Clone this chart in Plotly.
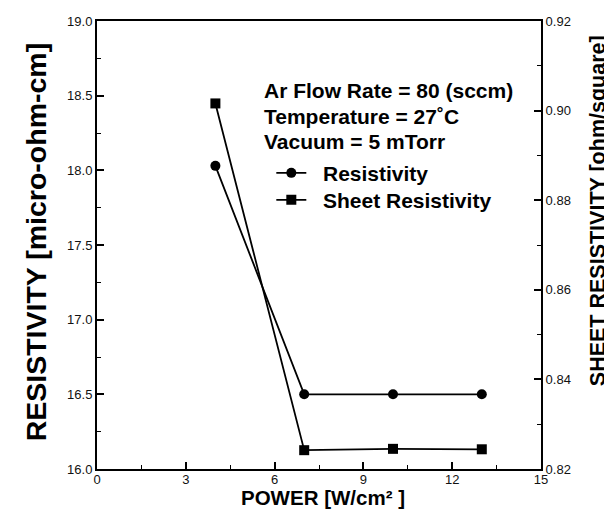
import plotly.graph_objects as go

power = [4, 7, 10, 13]
resistivity = [18.03, 16.50, 16.50, 16.50]
sheet_resistivity = [0.9016, 0.8242, 0.8245, 0.8244]

x_ticks = [0, 3, 6, 9, 12, 15]
y_ticks = [16.0, 16.5, 17.0, 17.5, 18.0, 18.5, 19.0]
y2_ticks = [0.82, 0.84, 0.86, 0.88, 0.90, 0.92]

conditions = ["Ar Flow Rate = 80 (sccm)", "Temperature = 27˚C", "Vacuum = 5 mTorr"]
series_names = ["Resistivity", "Sheet Resistivity"]
x_title = "POWER [W/cm² ]"
y_title = "RESISTIVITY [micro-ohm-cm]"
y2_title = "SHEET RESISTIVITY [ohm/square]"

FONT = "Liberation Sans, Arial, sans-serif"
NB = "\u00a0\u00a0"

fig = go.Figure()
fig.add_trace(go.Scatter(
    x=power, y=resistivity, mode="lines+markers", name=NB + series_names[0],
    line=dict(color="black", width=1.8),
    marker=dict(symbol="circle", size=10, color="black"),
    yaxis="y", legend="legend"))
fig.add_trace(go.Scatter(
    x=power, y=sheet_resistivity, mode="lines+markers", name=NB + series_names[1],
    line=dict(color="black", width=1.8),
    marker=dict(symbol="square", size=10, color="black"),
    yaxis="y2", legend="legend2"))

def axis_common():
    return dict(showgrid=False, zeroline=False, showline=True, linecolor="black",
                linewidth=2, ticks="inside", ticklen=7, tickwidth=1.5, tickcolor="black",
                automargin=False,
                tickfont=dict(family=FONT, size=13, color="#111"))

legend_font = dict(family=FONT, size=21, color="black", weight="bold")

fig.update_layout(
    width=612, height=510,
    margin=dict(l=88.5, r=78.7, t=12.5, b=49),
    paper_bgcolor="white", plot_bgcolor="white",
    xaxis=dict(range=[0, 15], tickvals=x_ticks, ticktext=[str(v) for v in x_ticks],
               mirror=True, ticklabelstandoff=-3,
               minor=dict(ticks="inside", ticklen=4, dtick=1.5, tickcolor="black", tickwidth=1.2),
               **axis_common()),
    yaxis=dict(range=[16, 19], tickvals=y_ticks, ticktext=[f"{v:.1f}" for v in y_ticks],
               minor=dict(ticks="inside", ticklen=4, dtick=0.25, tickcolor="black", tickwidth=1.2),
               **axis_common()),
    yaxis2=dict(range=[0.82, 0.92], overlaying="y", side="right",
                tickvals=y2_ticks, ticktext=[f"{v:.2f}" for v in y2_ticks],
                minor=dict(ticks="inside", ticklen=4, dtick=0.01, tickcolor="black", tickwidth=1.2),
                **axis_common()),
    showlegend=True,
    legend=dict(x=0.3926, y=0.706, xanchor="left", yanchor="top", bgcolor="rgba(0,0,0,0)",
                font=legend_font, itemwidth=30, borderwidth=0),
    legend2=dict(x=0.3926, y=0.6458, xanchor="left", yanchor="top", bgcolor="rgba(0,0,0,0)",
                 font=legend_font, itemwidth=30, borderwidth=0),
)

line_y = [0.845, 0.787, 0.731]
for txt, yy in zip(conditions, line_y):
    fig.add_annotation(
        x=0.3746, y=yy, xref="paper", yref="paper", xanchor="left", yanchor="middle",
        text=txt, align="left", showarrow=False, borderpad=0,
        font=dict(family=FONT, size=21, color="black", weight="bold"))

# axis titles
fig.add_annotation(x=0.5084, y=-0.0625, xref="paper", yref="paper", xanchor="center", yanchor="middle",
                   text=x_title, showarrow=False, borderpad=0,
                   font=dict(family=FONT, size=20.5, color="black", weight="bold"))
fig.add_annotation(x=-0.1372, y=0.5061, xref="paper", yref="paper", xanchor="center", yanchor="middle",
                   text=y_title, textangle=-90, showarrow=False, borderpad=0,
                   font=dict(family=FONT, size=28.5, color="black", weight="bold"))
fig.add_annotation(x=1.1282, y=0.5775, xref="paper", yref="paper", xanchor="center", yanchor="middle",
                   text=y2_title, textangle=-90, showarrow=False, borderpad=0,
                   font=dict(family=FONT, size=21.5, color="black", weight="bold"))

fig.write_html("out.html")
